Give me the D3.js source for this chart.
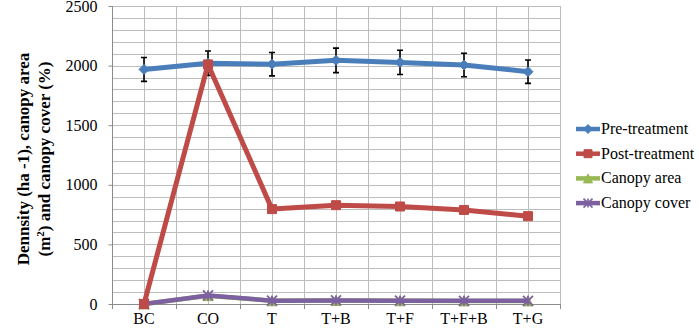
<!DOCTYPE html>
<html>
<head>
<meta charset="utf-8">
<script src="https://cdn.jsdelivr.net/npm/d3@7"></script>
<style>
  body { margin: 0; background: #fff; }
  svg, svg text { font-family: "Liberation Serif", "DejaVu Serif", serif !important; }
</style>
</head>
<body>
<div id="chart"></div>
<script>
// Data
const categories = ["BC", "CO", "T", "T+B", "T+F", "T+F+B", "T+G"];
const preTreatment = [1968, 2020, 2012, 2044, 2027, 2005, 1949];
const preError = [100, 102, 98, 103, 102, 98, 98];
const postTreatment = [0, 2010, 796, 829, 818, 789, 737];
const postError = [0, 0, 25, 25, 25, 25, 22];
const canopyArea = [0, 70, 27, 29, 27, 26, 26];
const canopyCover = [0, 72, 28, 30, 28, 27, 27];
const yTicks = [0, 500, 1000, 1500, 2000, 2500];

const seriesInfo = [
  { name: "Pre-treatment", values: preTreatment, errors: preError, color: "#4a7ebb", marker: "diamond" },
  { name: "Post-treatment", values: postTreatment, errors: postError, color: "#be4b48", marker: "square" },
  { name: "Canopy area", values: canopyArea, errors: null, color: "#98b954", marker: "triangle" },
  { name: "Canopy cover", values: canopyCover, errors: null, color: "#7d60a0", marker: "cross" }
];

const serif = "'Liberation Serif', 'DejaVu Serif', serif";
const width = 699, height = 330;
const margin = { top: 6, right: 139, bottom: 26, left: 112 };
const innerWidth = width - margin.left - margin.right;
const innerHeight = height - margin.top - margin.bottom;

const svg = d3.select("#chart")
  .append("svg")
  .attr("width", width)
  .attr("height", height);

const innerChart = svg
  .append("g")
  .attr("transform", `translate(${margin.left}, ${margin.top})`);

// Scales
const xScale = d3.scaleBand()
  .domain(categories)
  .range([0, innerWidth])
  .padding(0);
const xCenter = c => xScale(c) + xScale.bandwidth() / 2;

const yScale = d3.scaleLinear()
  .domain([0, 2500])
  .range([innerHeight, 0]);

// Gridlines
const gridColor = "#bdbdbd";
innerChart.append("g")
  .selectAll("line")
  .data(d3.range(0, 2501, 100))
  .join("line")
    .attr("x1", 0)
    .attr("x2", innerWidth)
    .attr("y1", d => Math.round(yScale(d)) + 0.5)
    .attr("y2", d => Math.round(yScale(d)) + 0.5)
    .attr("stroke", gridColor)
    .attr("stroke-width", 1);

const vLines = [];
categories.forEach(c => { vLines.push(xScale(c)); vLines.push(xCenter(c)); });
vLines.push(innerWidth);
innerChart.append("g")
  .selectAll("line")
  .data(vLines)
  .join("line")
    .attr("x1", d => Math.round(d) + 0.5)
    .attr("x2", d => Math.round(d) + 0.5)
    .attr("y1", 0)
    .attr("y2", innerHeight)
    .attr("stroke", gridColor)
    .attr("stroke-width", 1);

// Axes
const bottomAxis = d3.axisBottom(xScale)
  .tickSize(0)
  .tickPadding(9);
const xAxisG = innerChart.append("g")
  .attr("transform", `translate(0, ${innerHeight})`)
  .call(bottomAxis)
  .attr("font-family", null);
xAxisG.select(".domain").attr("stroke", "#8c8c8c").attr("d", `M0.5,0.5H${innerWidth + 0.5}`);
xAxisG.selectAll("text")
  .attr("font-size", 16)
  .attr("fill", "#000")
  .style("font-family", serif);
xAxisG.append("g")
  .selectAll("line")
  .data(categories.map(c => xScale(c)).concat([innerWidth]))
  .join("line")
    .attr("x1", d => Math.round(d) + 0.5)
    .attr("x2", d => Math.round(d) + 0.5)
    .attr("y1", 0)
    .attr("y2", 5)
    .attr("stroke", "#8c8c8c");

const leftAxis = d3.axisLeft(yScale)
  .tickValues(yTicks)
  .tickFormat(d3.format("d"))
  .tickSize(4)
  .tickPadding(11);
const yAxisG = innerChart.append("g")
  .attr("transform", "translate(0.5, 0)")
  .call(leftAxis)
  .attr("font-family", null);
yAxisG.select(".domain").attr("stroke", "#8c8c8c").attr("d", `M0,0.5V${innerHeight + 0.5}`);
yAxisG.selectAll(".tick line").attr("stroke", "#8c8c8c");
yAxisG.selectAll("text")
  .attr("font-size", 16)
  .attr("fill", "#000")
  .style("font-family", serif);

// Series lines
const lineGen = d3.line()
  .x((d, i) => xCenter(categories[i]))
  .y(d => yScale(d));

const markerPath = (type, size) => {
  const h = size / 2;
  if (type === "diamond") return `M0,${-h}L${h},0L0,${h}L${-h},0Z`;
  if (type === "square") return `M${-h},${-h}H${h}V${h}H${-h}Z`;
  if (type === "triangle") return `M0,${-h}L${h},${h}H${-h}Z`;
  return `M${-h},${-h}L${h},${h}M${h},${-h}L${-h},${h}M0,${-h}V${h}`;
};

// draw order: canopy area under canopy cover
const drawOrder = [0, 2, 3, 1];
drawOrder.forEach(k => {
  const s = seriesInfo[k];
  const g = innerChart.append("g");
  g.append("path")
    .datum(s.values)
    .attr("d", lineGen)
    .attr("fill", "none")
    .attr("stroke", s.color)
    .attr("stroke-width", k === 3 || k === 2 ? 4.5 : 5)
    .attr("stroke-linejoin", "round");

  if (s.errors) {
    const eb = s.values.map((v, i) => ({ c: categories[i], v, e: s.errors[i] })).filter(d => d.e > 0);
    g.selectAll(".err")
      .data(eb)
      .join("path")
        .attr("d", d => {
          const x = xCenter(d.c), y1 = yScale(d.v + d.e), y0 = yScale(d.v - d.e);
          return `M${x},${y1}V${y0}M${x - 3},${y1}H${x + 3}M${x - 3},${y0}H${x + 3}`;
        })
        .attr("fill", "none")
        .attr("stroke", "#000")
        .attr("stroke-width", 1.6);
  }

  g.selectAll(".mk")
    .data(s.values)
    .join("path")
      .attr("transform", (d, i) => `translate(${xCenter(categories[i])}, ${yScale(d)})`)
      .attr("d", markerPath(s.marker, s.marker === "square" ? 9 : 10))
      .attr("fill", s.marker === "cross" ? "none" : s.color)
      .attr("stroke", s.color)
      .attr("stroke-width", s.marker === "cross" ? 1.8 : 1);
});

// Y axis title
const yTitle = svg.append("text")
  .attr("transform", `translate(29, ${margin.top + innerHeight / 2 + 4}) rotate(-90)`)
  .attr("text-anchor", "middle")
  .attr("font-size", 17)
  .attr("font-weight", "bold")
  .attr("fill", "#000")
  .style("font-family", serif);
yTitle.append("tspan")
  .attr("x", 0)
  .attr("dy", 0)
  .text("Dennsity (ha -1), canopy area");
const line2 = yTitle.append("tspan")
  .attr("x", 0)
  .attr("dy", 21);
line2.append("tspan").text("(m");
line2.append("tspan").attr("font-size", 11).attr("dy", -6).text("2");
line2.append("tspan").attr("dy", 6).text(") and canopy cover (%)");

// Legend
const legend = svg.append("g")
  .attr("transform", "translate(576, 129)");
seriesInfo.forEach((s, i) => {
  const row = legend.append("g").attr("transform", `translate(0, ${i * 24.7})`);
  row.append("line")
    .attr("x1", 0).attr("x2", 24)
    .attr("y1", 0).attr("y2", 0)
    .attr("stroke", s.color)
    .attr("stroke-width", 4.5);
  row.append("path")
    .attr("transform", "translate(12, 0)")
    .attr("d", markerPath(s.marker, s.marker === "square" ? 8 : 9))
    .attr("fill", s.marker === "cross" ? "none" : s.color)
    .attr("stroke", s.color)
    .attr("stroke-width", s.marker === "cross" ? 1.6 : 1);
  row.append("text")
    .attr("x", 25)
    .attr("y", 5)
    .attr("font-size", 16)
    .attr("fill", "#000")
    .style("font-family", serif)
    .text(s.name);
});
</script>
</body>
</html>
